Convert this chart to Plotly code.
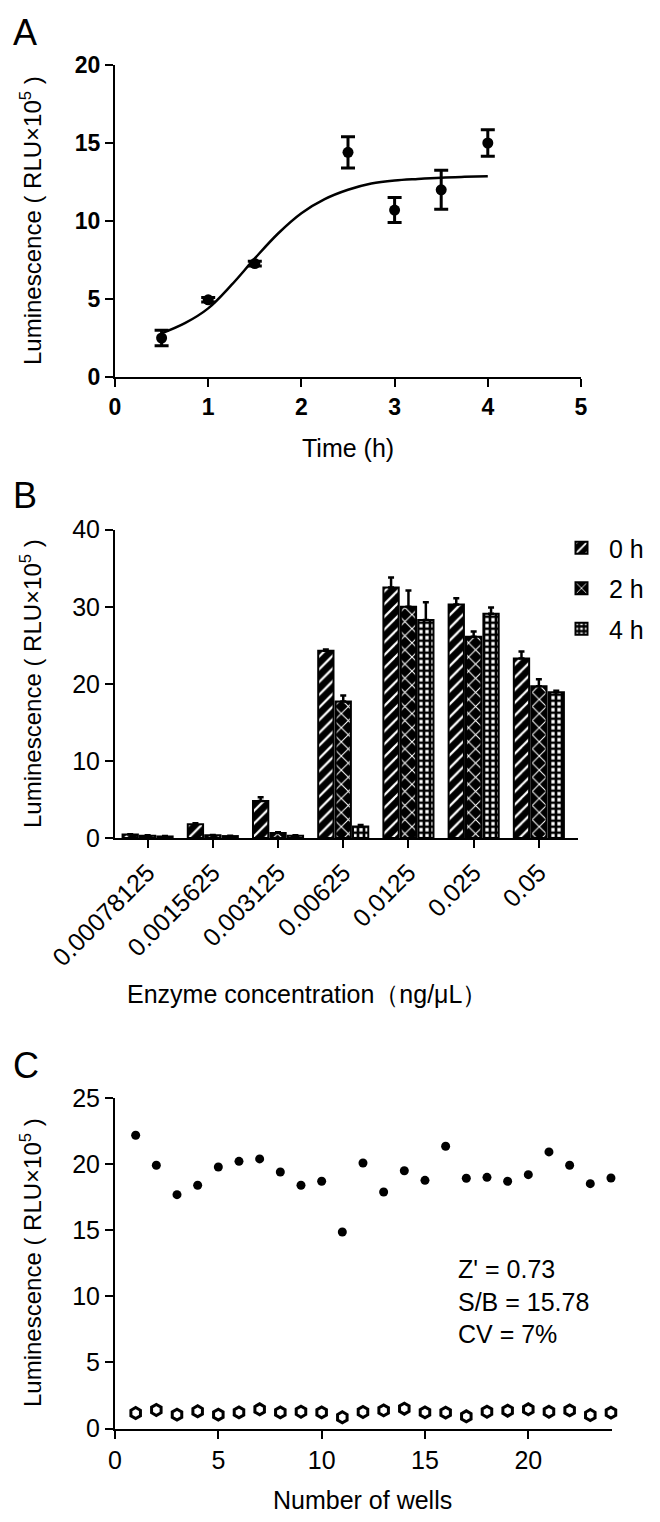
import plotly.graph_objects as go

W, H = 660, 1522

# ---------------- Panel A data ----------------
time_h = [0.5, 1.0, 1.5, 2.5, 3.0, 3.5, 4.0]
lum_a = [2.5, 4.95, 7.27, 14.4, 10.7, 12.0, 15.0]
err_a = [0.5, 0.15, 0.15, 1.0, 0.8, 1.25, 0.85]
fit_x = [0.5, 0.75, 1.0, 1.25, 1.5, 1.75, 2.0, 2.25, 2.5, 2.75, 3.0, 3.25, 3.5, 3.75, 4.0]
fit_y = [2.8, 3.45, 4.4, 5.9, 7.6, 9.2, 10.5, 11.4, 12.0, 12.4, 12.6, 12.7, 12.78, 12.83, 12.87]

# ---------------- Panel B data ----------------
enzyme_conc = ["0.00078125", "0.0015625", "0.003125", "0.00625", "0.0125", "0.025", "0.05"]
lum_0h = [0.45, 1.8, 4.8, 24.3, 32.5, 30.3, 23.3]
err_0h = [0.05, 0.1, 0.5, 0.15, 1.3, 0.8, 0.9]
lum_2h = [0.3, 0.35, 0.65, 17.7, 30.0, 26.1, 19.7]
err_2h = [0.05, 0.05, 0.1, 0.8, 2.1, 0.7, 0.9]
lum_4h = [0.2, 0.25, 0.3, 1.5, 28.3, 29.1, 18.9]
err_4h = [0.05, 0.05, 0.05, 0.2, 2.3, 0.8, 0.2]
series_names = ["0 h", "2 h", "4 h"]

# ---------------- Panel C data ----------------
wells = list(range(1, 25))
signal = [22.18, 19.91, 17.69, 18.40, 19.78, 20.21, 20.39, 19.40, 18.40, 18.70, 14.86, 20.08,
          17.89, 19.50, 18.77, 21.35, 18.93, 19.00, 18.70, 19.20, 20.92, 19.91, 18.52, 18.95]
background = [1.17, 1.40, 1.05, 1.30, 1.05, 1.22, 1.45, 1.22, 1.27, 1.22, 0.85, 1.25,
              1.37, 1.50, 1.22, 1.20, 0.92, 1.27, 1.35, 1.45, 1.27, 1.37, 1.02, 1.20]
stats_text = ["Z' = 0.73", "S/B = 15.78", "CV = 7%"]


def px_x(p):
    return p / W


def px_y(p):
    return 1 - p / H


FONT = "Liberation Sans, Arial, sans-serif"
fig = go.Figure()

# Panel A
fig.add_trace(go.Scatter(x=fit_x, y=fit_y, mode="lines", line=dict(color="black", width=2.5, shape="spline"),
                         xaxis="x", yaxis="y", showlegend=False, hoverinfo="skip"))
fig.add_trace(go.Scatter(x=time_h, y=lum_a, mode="markers",
                         marker=dict(color="black", size=11),
                         error_y=dict(type="data", array=err_a, color="black", thickness=3, width=7),
                         xaxis="x", yaxis="y", showlegend=False, cliponaxis=False))

# Panel B
patterns = [
    dict(shape="/", fgcolor="white", bgcolor="black", size=9, solidity=0.25, fillmode="replace"),
    dict(shape="x", fgcolor="white", bgcolor="black", size=10, solidity=0.2, fillmode="replace"),
    dict(shape="+", fgcolor="black", bgcolor="white", size=6, solidity=0.7, fillmode="replace"),
]
for name, vals, errs, pat in zip(series_names, [lum_0h, lum_2h, lum_4h], [err_0h, err_2h, err_4h], patterns):
    fig.add_trace(go.Bar(x=enzyme_conc, y=vals, name=name,
                         marker=dict(color="black", line=dict(color="black", width=2), pattern=pat),
                         error_y=dict(type="data", symmetric=False, array=errs, arrayminus=[0] * len(errs),
                                      color="black", thickness=2.5, width=3),
                         xaxis="x2", yaxis="y2", legendgroup=name, cliponaxis=False))

# Panel C
fig.add_trace(go.Scatter(x=wells, y=signal, mode="markers", marker=dict(color="black", size=9),
                         xaxis="x3", yaxis="y3", showlegend=False, cliponaxis=False))
fig.add_trace(go.Scatter(x=wells, y=background, mode="markers",
                         marker=dict(symbol="hexagon", color="white", size=11, line=dict(color="black", width=3)),
                         xaxis="x3", yaxis="y3", showlegend=False, cliponaxis=False))

axis_common = dict(showline=True, linecolor="black", linewidth=2, ticks="outside", ticklen=8, tickwidth=2,
                   tickcolor="black", showgrid=False, zeroline=False, automargin=False)
font_bold = dict(family=FONT, size=23, color="black", weight="bold")
font_norm = dict(family=FONT, size=25, color="black")

fig.update_layout(
    width=W, height=H, margin=dict(l=0, r=0, t=0, b=0, autoexpand=False),
    paper_bgcolor="white", plot_bgcolor="white",
    font=dict(family=FONT, color="black"),
    bargap=0.2, bargroupgap=0.12, barmode="group",
    xaxis=dict(domain=[px_x(107), px_x(573)], range=[0, 5], tickvals=[0, 1, 2, 3, 4, 5],
               anchor="y", tickfont=font_bold, **axis_common),
    yaxis=dict(domain=[px_y(369), px_y(57)], range=[0, 20], tickvals=[0, 5, 10, 15, 20],
               anchor="x", tickfont=font_bold, **axis_common),
    xaxis2=dict(domain=[px_x(107), px_x(570)], range=[-0.5, 6.6], type="category",
                anchor="y2", tickfont=font_norm, tickangle=-45, **axis_common),
    yaxis2=dict(domain=[px_y(830), px_y(521.7)], range=[0, 40], tickvals=[0, 10, 20, 30, 40],
                anchor="x2", tickfont=font_norm, **axis_common),
    xaxis3=dict(domain=[px_x(107), px_x(604)], range=[0, 24.05], tickvals=[0, 5, 10, 15, 20],
                anchor="y3", tickfont=font_norm, **axis_common),
    yaxis3=dict(domain=[px_y(1420.5), px_y(1090)], range=[0, 25], tickvals=[0, 5, 10, 15, 20, 25],
                anchor="x3", tickfont=font_norm, **axis_common),
    legend=dict(x=px_x(546), y=px_y(517), xanchor="left", yanchor="top", font=dict(family=FONT, size=25),
                tracegroupgap=5, itemwidth=45, bgcolor="rgba(0,0,0,0)"),
)

ytitle = "Luminescence ( RLU×10<sup>5</sup> )"
annotations = [
    dict(text="A", x=px_x(3), y=px_y(25), xanchor="left", yanchor="middle", font=dict(size=36)),
    dict(text="B", x=px_x(3), y=px_y(487), xanchor="left", yanchor="middle", font=dict(size=36)),
    dict(text="C", x=px_x(3), y=px_y(1057), xanchor="left", yanchor="middle", font=dict(size=36)),
    dict(text=ytitle, x=px_x(23), y=px_y(213), textangle=-90, xanchor="center", yanchor="middle", font=dict(size=24)),
    dict(text=ytitle, x=px_x(23), y=px_y(676), textangle=-90, xanchor="center", yanchor="middle", font=dict(size=24)),
    dict(text=ytitle, x=px_x(23), y=px_y(1255), textangle=-90, xanchor="center", yanchor="middle", font=dict(size=24)),
    dict(text="Time (h)", x=px_x(340), y=px_y(440), xanchor="center", yanchor="middle", font=dict(size=25)),
    dict(text="Enzyme concentration（ng/μL）", x=px_x(117), y=px_y(986), xanchor="left", yanchor="middle",
         font=dict(size=25)),
    dict(text="Number of wells", x=px_x(354), y=px_y(1492), xanchor="center", yanchor="middle", font=dict(size=25)),
    dict(text="<br>".join(stats_text), x=px_x(448), y=px_y(1293), xanchor="left", yanchor="middle",
         align="left", font=dict(size=25)),
]
for a in annotations:
    a.update(xref="paper", yref="paper", showarrow=False)
    a["font"] = dict(family=FONT, color="black", **a["font"])
fig.update_layout(annotations=annotations)

fig.write_html("out.html")
